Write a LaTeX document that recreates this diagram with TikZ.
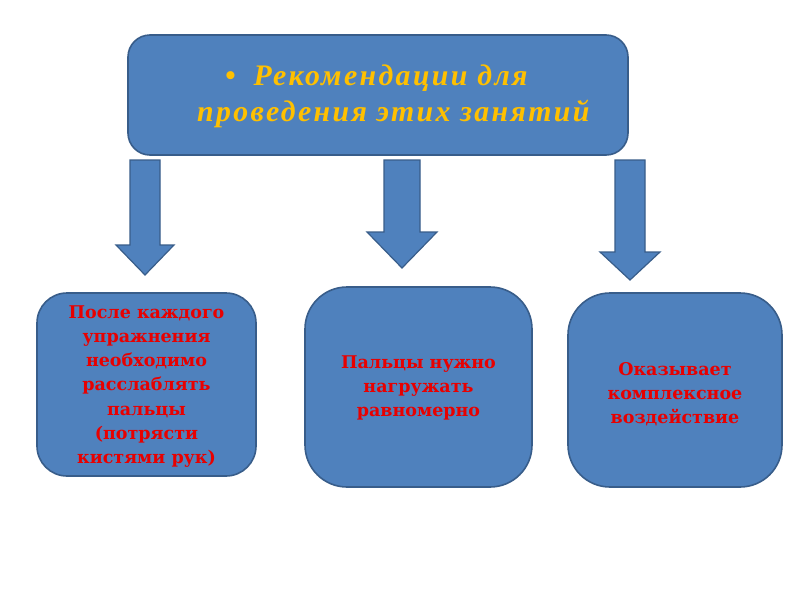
\documentclass[tikz,border=0pt]{standalone}
\usepackage{fontspec}
\setmainfont{DejaVu Serif}
\newfontfamily\titlefont[LetterSpace=8]{Liberation Serif}
\definecolor{boxfill}{RGB}{79,129,189}
\definecolor{boxline}{RGB}{56,93,138}
\definecolor{titlecol}{RGB}{255,192,0}
\definecolor{redtext}{RGB}{232,0,0}
\begin{document}
\begin{tikzpicture}[x=1pt,y=-1pt,
  box/.style={draw=boxline, line width=1.6pt, fill=boxfill, rectangle, inner sep=0pt},
  redlabel/.style={text=redtext, font=\bfseries\fontsize{17.5}{24.2}\selectfont, align=center},
  blockarrow/.style={draw=boxline, line width=1.2pt, fill=boxfill, line join=miter}]
\useasboundingbox (0,0) rectangle (800,600);
\fill[white] (0,0) rectangle (800,600);
% top box
\node[box, rounded corners=22pt, minimum width=500pt, minimum height=120pt] (top) at (378,95) {};
\node[anchor=west, text=titlecol, font=\titlefont\bfseries\itshape\fontsize{29.8}{36}\selectfont, align=left, inner sep=0pt] (title) at (197,96)
  {\hspace*{28pt}\textbullet\hspace{18pt}Рекомендации для\\проведения этих занятий};
% bottom boxes
\node[box, rounded corners=30pt, minimum width=219pt, minimum height=183pt] (b1) at (146.5,384.5) {};
\node[box, rounded corners=42pt, minimum width=227pt, minimum height=200pt] (b2) at (418.5,387) {};
\node[box, rounded corners=42pt, minimum width=214pt, minimum height=194pt] (b3) at (675,390) {};
\node[redlabel] (t1) at ([yshift=-2pt]b1.center) {После каждого\\упражнения\\необходимо\\расслаблять\\пальцы\\(потрясти\\кистями рук)};
\node[redlabel] (t2) at ([yshift=-1pt]b2.center) {Пальцы нужно\\нагружать\\равномерно};
\node[redlabel] (t3) at ([yshift=-4pt]b3.center) {Оказывает\\комплексное\\воздействие};
% block arrows
\coordinate (a1) at (145,160);
\coordinate (a2) at (402,160);
\coordinate (a3) at (630,160);
\draw[blockarrow] ([xshift=-15pt]a1) -- ++(0,85) -- ++(-14,0) -- ([yshift=-115pt]a1) -- ([xshift=29pt,yshift=-85pt]a1) -- ++(-14,0) -- ([xshift=15pt]a1) -- cycle;
\draw[blockarrow] ([xshift=-18pt]a2) -- ++(0,72) -- ++(-17,0) -- ([yshift=-108pt]a2) -- ([xshift=35pt,yshift=-72pt]a2) -- ++(-17,0) -- ([xshift=18pt]a2) -- cycle;
\draw[blockarrow] ([xshift=-15pt]a3) -- ++(0,92) -- ++(-15,0) -- ([yshift=-120pt]a3) -- ([xshift=30pt,yshift=-92pt]a3) -- ++(-15,0) -- ([xshift=15pt]a3) -- cycle;
\end{tikzpicture}
\end{document}
